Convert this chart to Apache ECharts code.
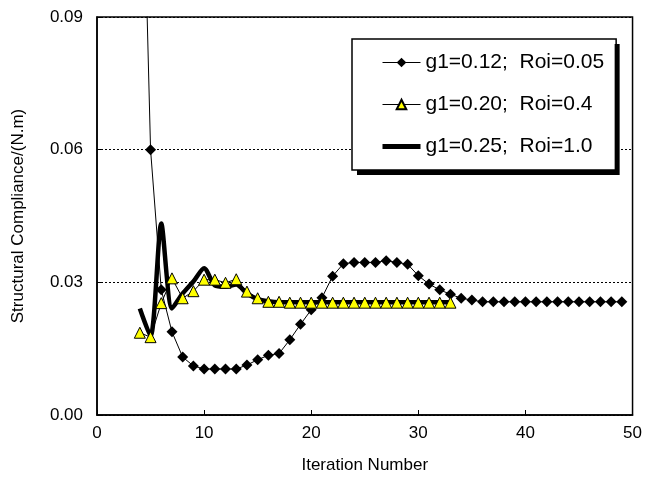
<!DOCTYPE html>
<html>
<head>
<meta charset="utf-8">
<script src="https://cdn.jsdelivr.net/npm/echarts@6/dist/echarts.min.js"></script>
<style>
  * { margin: 0; padding: 0; }
  html, body { width: 645px; height: 479px; background: #fff; }
  #chart { width: 645px; height: 479px; }
</style>
</head>
<body>
<div id="chart"></div>
<script>
// iteration numbers and structural compliance
const iterA = [4, 5, 6, 7, 8, 9, 10, 11, 12, 13, 14, 15, 16, 17, 18, 19, 20, 21, 22, 23, 24, 25, 26,
  27, 28, 29, 30, 31, 32, 33, 34, 35, 36, 37, 38, 39, 40, 41, 42, 43, 44, 45, 46, 47, 48, 49];
const compA = [0.155, 0.060, 0.0283, 0.0188, 0.0131, 0.0111, 0.0104, 0.0104, 0.0104, 0.0104, 0.0113,
  0.0125, 0.0135, 0.0139, 0.0170, 0.0205, 0.0238, 0.0265, 0.0314, 0.0342, 0.0345, 0.0345, 0.0345,
  0.0349, 0.0345, 0.0341, 0.0315, 0.0296, 0.0283, 0.0273, 0.0264, 0.0260, 0.0256, 0.0256, 0.0256,
  0.0256, 0.0256, 0.0256, 0.0256, 0.0256, 0.0256, 0.0256, 0.0256, 0.0256, 0.0256, 0.0256];

const iterB = [4, 5, 6, 7, 8, 9, 10, 11, 12, 13, 14, 15, 16, 17, 18, 19, 20, 21, 22, 23, 24, 25, 26,
  27, 28, 29, 30, 31, 32, 33];
const compB = [0.0186, 0.0176, 0.0253, 0.0309, 0.0264, 0.0280, 0.0306, 0.0306, 0.0299, 0.0307, 0.0279,
  0.0264, 0.0256, 0.0256, 0.0254, 0.0254, 0.0254, 0.0254, 0.0254, 0.0254, 0.0254, 0.0254, 0.0254,
  0.0254, 0.0254, 0.0254, 0.0254, 0.0254, 0.0254, 0.0254];

const iterC = [4, 5, 6, 7, 8, 9, 10, 11, 12, 13, 14, 15, 16, 17, 18, 19, 20, 21, 22, 23, 24, 25, 26,
  27, 28, 29, 30, 31, 32, 33];
const compC = [0.0241, 0.0178, 0.0433, 0.0241, 0.0275, 0.0302, 0.0332, 0.0293, 0.0290, 0.0295, 0.0275,
  0.0262, 0.0257, 0.0255, 0.0255, 0.0255, 0.0255, 0.0255, 0.0255, 0.0255, 0.0255, 0.0255, 0.0255,
  0.0255, 0.0255, 0.0255, 0.0255, 0.0255, 0.0255, 0.0255];

const names = ["g1=0.12;  Roi=0.05", "g1=0.20;  Roi=0.4", "g1=0.25;  Roi=1.0"];
const xTicks = [0, 50, 10];
const yTicks = [0, 0.09, 0.03];

const pairs = (xs, ys) => xs.map((x, i) => [x, ys[i]]);
const font = "'Liberation Sans', Arial, sans-serif";

// same layout for the shadow legend and the framed legend on top of it
const legendBase = {
  orient: "vertical",
  left: 352,
  top: 39,
  padding: [13, 12, 13, 28],
  itemGap: 21,
  itemWidth: 38,
  itemHeight: 12,
  borderRadius: 0,
  textStyle: { fontFamily: font, fontSize: 21, color: "#000" },
  data: [
    { name: names[0], lineStyle: { width: 1 } },
    { name: names[1], lineStyle: { width: 1 } },
    { name: names[2], lineStyle: { width: 5 }, itemStyle: { opacity: 0 } }
  ]
};

const chart = echarts.init(document.getElementById("chart"));
chart.setOption({
  animation: false,
  grid: {
    left: 97,
    right: 10,
    top: 17,
    bottom: 62,
    show: true,
    borderColor: "#000",
    borderWidth: 1.5
  },
  legend: [
    Object.assign({}, legendBase, {
      z: 3,
      selectedMode: false,
      backgroundColor: "#fff",
      borderWidth: 0,
      shadowColor: "#000",
      shadowBlur: 0,
      shadowOffsetX: 5,
      shadowOffsetY: 5,
      textStyle: { fontFamily: font, fontSize: 21, color: "rgba(0,0,0,0)" },
      itemStyle: { opacity: 0 },
      lineStyle: { opacity: 0 },
      data: names.map(n => ({ name: n, itemStyle: { opacity: 0 }, lineStyle: { opacity: 0 } }))
    }),
    Object.assign({}, legendBase, {
      z: 4,
      backgroundColor: "transparent",
      borderColor: "#000",
      borderWidth: 1.5
    })
  ],
  xAxis: {
    type: "value",
    min: xTicks[0],
    max: xTicks[1],
    interval: xTicks[2],
    name: "Iteration Number",
    nameLocation: "middle",
    nameGap: 42,
    nameTextStyle: { fontFamily: font, fontSize: 17, color: "#000" },
    axisLine: { lineStyle: { color: "#000", width: 1.5 } },
    axisTick: { inside: true, length: 5, lineStyle: { color: "#000" } },
    axisLabel: { fontFamily: font, fontSize: 17, color: "#000", margin: 10 },
    splitLine: { show: false }
  },
  yAxis: {
    type: "value",
    min: yTicks[0],
    max: yTicks[1],
    interval: yTicks[2],
    name: "Structural Compliance/(N.m)",
    nameLocation: "middle",
    nameGap: 70,
    nameTextStyle: { fontFamily: font, fontSize: 17, color: "#000" },
    axisLine: { show: true, lineStyle: { color: "#000", width: 1.5 } },
    axisTick: { show: true, inside: true, length: 5, lineStyle: { color: "#000" } },
    axisLabel: {
      fontFamily: font, fontSize: 17, color: "#000", margin: 14,
      formatter: v => v.toFixed(2)
    },
    splitLine: { show: true, lineStyle: { color: "#000", type: [2, 2], width: 1 } }
  },
  series: [
    {
      name: names[2],
      type: "line",
      data: pairs(iterC, compC),
      smooth: 0.25,
      showSymbol: false,
      symbol: "none",
      lineStyle: { color: "#000", width: 4.5 },
      itemStyle: { color: "#000" },
      z: 2
    },
    {
      name: names[0],
      type: "line",
      data: pairs(iterA, compA),
      symbol: "diamond",
      symbolSize: 11,
      lineStyle: { color: "#000", width: 1 },
      itemStyle: { color: "#000" },
      z: 3
    },
    {
      name: names[1],
      type: "line",
      data: pairs(iterB, compB),
      symbol: "triangle",
      symbolSize: 11,
      lineStyle: { color: "#000", width: 1 },
      itemStyle: { color: "#ffff00", borderColor: "#000", borderWidth: 1 },
      z: 4
    }
  ]
});
</script>
</body>
</html>
